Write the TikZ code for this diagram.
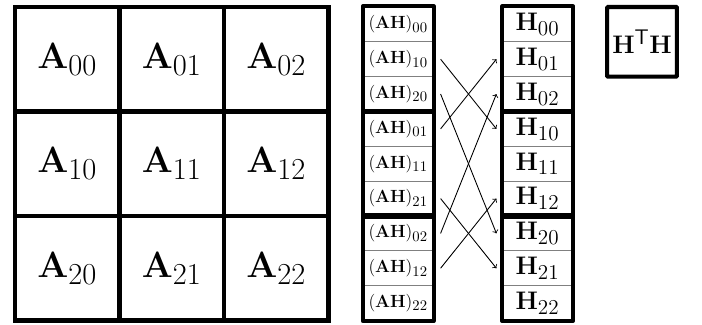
\documentclass[tikz,border=0pt]{standalone}
\usepackage{amsmath}
\usepackage{amssymb}
\usepackage{tikz}
\usepackage{xcolor}
\DeclareMathSizes{12}{12}{10}{8}
\DeclareMathSizes{18}{18}{15}{12}

\begin{document}
\begin{tikzpicture}[scale=2.5]
        % Cell style definitions
        \tikzset{
            bigcell/.style={draw=black, line width=2.8pt, minimum width=2.5cm, minimum height=2.5cm, inner sep=0pt, font=\Huge},
            ahcell/.style={draw=black!50, line width=0.7pt, minimum width=1.6667cm, minimum height=0.8333cm, inner sep=0pt, font=\large},
            hcell/.style={draw=black!50, line width=0.7pt, minimum width=1.6667cm, minimum height=0.8333cm, inner sep=0pt, font=\fontsize{18}{22}\selectfont},
            block/.style={black, line width=2.8pt, line join=round},
            link/.style={->, black, line width=0.6pt}
        }
        \useasboundingbox (-0.1435,-0.0335) rectangle (6.574,3.067);

        % ==========================================
        % BLOCK MATRIX A (3 x 3)
        % ==========================================
        \node[bigcell] (A00) at (0.5, 2.5) {$\mathbf{A}_{00}$};
        \node[bigcell] (A01) at (1.5, 2.5) {$\mathbf{A}_{01}$};
        \node[bigcell] (A02) at (2.5, 2.5) {$\mathbf{A}_{02}$};
        \node[bigcell] (A10) at (0.5, 1.5) {$\mathbf{A}_{10}$};
        \node[bigcell] (A11) at (1.5, 1.5) {$\mathbf{A}_{11}$};
        \node[bigcell] (A12) at (2.5, 1.5) {$\mathbf{A}_{12}$};
        \node[bigcell] (A20) at (0.5, 0.5) {$\mathbf{A}_{20}$};
        \node[bigcell] (A21) at (1.5, 0.5) {$\mathbf{A}_{21}$};
        \node[bigcell] (A22) at (2.5, 0.5) {$\mathbf{A}_{22}$};

        % ==========================================
        % COLUMN OF PRODUCTS AH
        % ==========================================
        \node[ahcell] (AH00) at (3.6667, 2.8333) {$(\mathbf{AH})_{00}$};
        \node[ahcell] (AH10) at (3.6667, 2.5) {$(\mathbf{AH})_{10}$};
        \node[ahcell] (AH20) at (3.6667, 2.1667) {$(\mathbf{AH})_{20}$};
        \node[ahcell] (AH01) at (3.6667, 1.8333) {$(\mathbf{AH})_{01}$};
        \node[ahcell] (AH11) at (3.6667, 1.5) {$(\mathbf{AH})_{11}$};
        \node[ahcell] (AH21) at (3.6667, 1.1667) {$(\mathbf{AH})_{21}$};
        \node[ahcell] (AH02) at (3.6667, 0.8333) {$(\mathbf{AH})_{02}$};
        \node[ahcell] (AH12) at (3.6667, 0.5) {$(\mathbf{AH})_{12}$};
        \node[ahcell] (AH22) at (3.6667, 0.1667) {$(\mathbf{AH})_{22}$};

        \draw[block] (AH00.north west) rectangle (AH20.south east);
        \draw[block] (AH01.north west) rectangle (AH21.south east);
        \draw[block] (AH02.north west) rectangle (AH22.south east);

        % ==========================================
        % COLUMN OF BLOCKS H
        % ==========================================
        \node[hcell] (H00) at (5, 2.8333) {$\mathbf{H}_{00}$};
        \node[hcell] (H01) at (5, 2.5) {$\mathbf{H}_{01}$};
        \node[hcell] (H02) at (5, 2.1667) {$\mathbf{H}_{02}$};
        \node[hcell] (H10) at (5, 1.8333) {$\mathbf{H}_{10}$};
        \node[hcell] (H11) at (5, 1.5) {$\mathbf{H}_{11}$};
        \node[hcell] (H12) at (5, 1.1667) {$\mathbf{H}_{12}$};
        \node[hcell] (H20) at (5, 0.8333) {$\mathbf{H}_{20}$};
        \node[hcell] (H21) at (5, 0.5) {$\mathbf{H}_{21}$};
        \node[hcell] (H22) at (5, 0.1667) {$\mathbf{H}_{22}$};

        \draw[block] (H00.north west) rectangle (H02.south east);
        \draw[block] (H10.north west) rectangle (H12.south east);
        \draw[block] (H20.north west) rectangle (H22.south east);

        % transposed product
        \node[hcell, draw=black, line width=2.8pt, minimum width=1.6667cm, minimum height=1.6667cm, rounded corners=0.5pt] (HTH) at (6, 2.6667) {$\mathbf{H}^{\mathsf{T}}\mathbf{H}$};

        % ==========================================
        % TRANSPOSE ARROWS
        % ==========================================
        \draw[link] ([xshift=1.9pt]AH10.east) -- ([xshift=-1.6pt]H10.west);
        \draw[link] ([xshift=1.9pt]AH20.east) -- ([xshift=-1.6pt]H20.west);
        \draw[link] ([xshift=1.9pt]AH01.east) -- ([xshift=-1.6pt]H01.west);
        \draw[link] ([xshift=1.9pt]AH21.east) -- ([xshift=-1.6pt]H21.west);
        \draw[link] ([xshift=1.9pt]AH02.east) -- ([xshift=-1.6pt]H02.west);
        \draw[link] ([xshift=1.9pt]AH12.east) -- ([xshift=-1.6pt]H12.west);
    \end{tikzpicture}
\end{document}
